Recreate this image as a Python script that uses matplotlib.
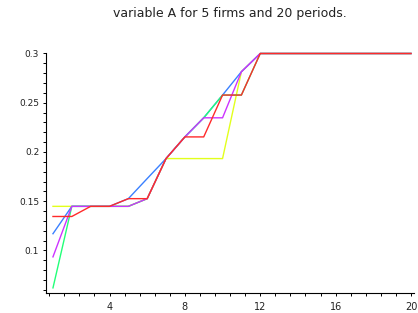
import numpy as np
import matplotlib
matplotlib.use('Agg')
import matplotlib.pyplot as plt
from matplotlib.ticker import MultipleLocator, FixedLocator

# periods 1..20, values
periods = np.arange(1, 21)
flat = [0.3] * 8
yellow = [0.1448, 0.1448, 0.1448, 0.1448, 0.1448, 0.1526, 0.1933, 0.1933, 0.1933, 0.1933, 0.2815, 0.3] + flat
blue = [0.117, 0.1448, 0.1448, 0.1448, 0.1526, 0.173, 0.1933, 0.2153, 0.2347, 0.2578, 0.2815, 0.3] + flat
green = [0.062, 0.1448, 0.1448, 0.1448, 0.1448, 0.1526, 0.1933, 0.2153, 0.2347, 0.2578, 0.2578, 0.3] + flat
magenta = [0.0935, 0.1448, 0.1448, 0.1448, 0.1448, 0.1526, 0.1933, 0.2153, 0.2347, 0.2347, 0.2815, 0.3] + flat
red = [0.1345, 0.1345, 0.1448, 0.1448, 0.1526, 0.1526, 0.1933, 0.2153, 0.2153, 0.2578, 0.2578, 0.3] + flat

series = [yellow, blue, green, magenta, red]
colors = ['#e2ff1c', '#3a80ff', '#22ff78', '#cc33ff', '#ff2a2a']

title = 'variable A for 5 firms and 20 periods.'
xticks = [4, 8, 12, 16, 20]
yticks = [0.1, 0.15, 0.2, 0.25, 0.3]
ylabels = ['0.1', '0.15', '0.2', '0.25', '0.3']

fig = plt.figure(figsize=(4.18, 3.13), dpi=100)
ax = fig.add_axes([46 / 418, (313 - 293.3) / 313, (414 - 46) / 418, (293.3 - 53.5) / 313])

# red drawn last so it sits on top, like the maple plot
for s, c in zip(series, colors):
    ax.plot(periods, s, color=c, lw=1.0, clip_on=False)

ax.set_xlim(0.63, 20.16)
ax.set_ylim(0.0565, 0.3)

for side in ['top', 'right']:
    ax.spines[side].set_visible(False)
for side in ['left', 'bottom']:
    ax.spines[side].set_linewidth(0.8)
    ax.spines[side].set_color('black')

ax.xaxis.set_major_locator(FixedLocator(xticks))
ax.xaxis.set_minor_locator(MultipleLocator(0.8))
ax.yaxis.set_major_locator(FixedLocator(yticks))
ax.yaxis.set_minor_locator(MultipleLocator(0.01))
ax.set_yticklabels(ylabels)

ax.tick_params(axis='both', which='both', direction='out', length=2.4, width=0.7, color='black')
ax.tick_params(axis='x', labelsize=7, pad=4.2, labelcolor='#222222')
ax.tick_params(axis='y', labelsize=6.5, pad=2.5, labelcolor='#222222')

fig.text(230 / 418, 1 - 14 / 313, title, ha='center', va='center', fontsize=9, color='#222222')

fig.savefig('out.png', dpi=100)
